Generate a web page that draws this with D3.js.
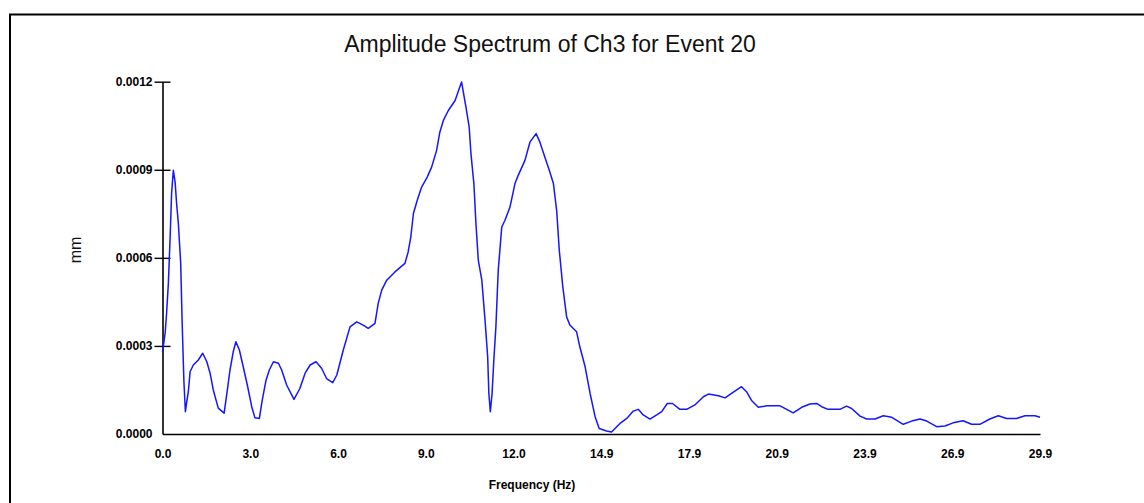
<!DOCTYPE html>
<html>
<head>
<meta charset="utf-8">
<script src="https://cdn.jsdelivr.net/npm/d3@7"></script>
<style>
  body { margin: 0; background: #fff; }
  svg { display: block; font-family: "Liberation Sans", Arial, sans-serif; }
  .tick text { font-size: 12px; font-weight: bold; fill: #000; }
</style>
</head>
<body>
<svg id="chart" width="1144" height="503"></svg>
<script>
// frequency (Hz) of each point
const freqs = [
  0.00, 0.09, 0.14, 0.20, 0.26, 0.31, 0.37, 0.43, 0.48, 0.54, 0.62, 0.67, 0.73, 0.78, 0.82, 0.88,
  0.94, 1.05, 1.22, 1.37, 1.51, 1.62, 1.73, 1.90, 2.10, 2.21, 2.30, 2.41, 2.50, 2.62, 2.75, 2.89,
  3.04, 3.15, 3.30, 3.40, 3.53, 3.64, 3.78, 3.95, 4.06, 4.23, 4.48, 4.68, 4.86, 5.03, 5.23, 5.42,
  5.59, 5.80, 5.94, 6.16, 6.39, 6.62, 6.84, 7.01, 7.24, 7.35, 7.47, 7.64, 7.92, 8.26, 8.37, 8.46,
  8.55, 8.68, 8.83, 9.02, 9.17, 9.34, 9.45, 9.57, 9.74, 9.97, 10.19, 10.34, 10.45, 10.51, 10.61, 10.68,
  10.76, 10.88, 10.99, 11.08, 11.12, 11.17, 11.23, 11.29, 11.36, 11.44, 11.56, 11.67, 11.84, 12.01, 12.12, 12.35,
  12.52, 12.73, 12.86, 13.03, 13.18, 13.32, 13.43, 13.52, 13.64, 13.77, 13.88, 14.11, 14.22, 14.40, 14.57, 14.74,
  14.88, 15.13, 15.30, 15.59, 15.82, 16.04, 16.21, 16.38, 16.61, 16.84, 17.01, 17.20, 17.38, 17.63, 17.86, 18.14,
  18.43, 18.60, 18.94, 19.17, 19.39, 19.73, 19.90, 20.08, 20.30, 20.59, 21.04, 21.27, 21.49, 21.78, 22.06, 22.29,
  22.46, 22.68, 23.08, 23.31, 23.48, 23.77, 23.99, 24.28, 24.56, 24.85, 25.24, 25.53, 25.81, 26.04, 26.38, 26.66,
  26.94, 27.28, 27.57, 27.85, 28.19, 28.48, 28.76, 29.10, 29.39, 29.73, 29.90
];

// amplitude (mm)
const amps = [
  0.000279, 0.000344, 0.000412, 0.000514, 0.000670, 0.000820, 0.000898, 0.000858, 0.000786, 0.000718, 0.000582, 0.000378, 0.000178, 0.000076, 0.000105, 0.000144,
  0.000212, 0.000235, 0.000252, 0.000275, 0.000246, 0.000208, 0.000150, 0.000088, 0.000071, 0.000150, 0.000218, 0.000280, 0.000314, 0.000286, 0.000229, 0.000167,
  0.000093, 0.000055, 0.000053, 0.000116, 0.000184, 0.000218, 0.000246, 0.000241, 0.000218, 0.000167, 0.000118, 0.000155, 0.000207, 0.000235, 0.000246, 0.000224,
  0.000189, 0.000175, 0.000201, 0.000286, 0.000365, 0.000382, 0.000371, 0.000360, 0.000377, 0.000445, 0.000490, 0.000524, 0.000552, 0.000581, 0.000620, 0.000671,
  0.000751, 0.000796, 0.000841, 0.000875, 0.000909, 0.000966, 0.001028, 0.001068, 0.001102, 0.001136, 0.001199, 0.001113, 0.001045, 0.000955, 0.000853, 0.000717,
  0.000592, 0.000524, 0.000388, 0.000263, 0.000138, 0.000076, 0.000138, 0.000252, 0.000365, 0.000558, 0.000705, 0.000728, 0.000773, 0.000853, 0.000881, 0.000932,
  0.000994, 0.001023, 0.000994, 0.000943, 0.000898, 0.000853, 0.000762, 0.000626, 0.000501, 0.000399, 0.000371, 0.000348, 0.000297, 0.000229, 0.000138, 0.000059,
  0.000019, 0.000010, 0.000007, 0.000036, 0.000053, 0.000078, 0.000084, 0.000065, 0.000051, 0.000065, 0.000076, 0.000104, 0.000104, 0.000084, 0.000084, 0.000099,
  0.000127, 0.000136, 0.000130, 0.000123, 0.000138, 0.000161, 0.000144, 0.000113, 0.000091, 0.000096, 0.000096, 0.000084, 0.000072, 0.000091, 0.000102, 0.000104,
  0.000093, 0.000084, 0.000084, 0.000095, 0.000087, 0.000061, 0.000051, 0.000051, 0.000062, 0.000057, 0.000033, 0.000044, 0.000051, 0.000044, 0.000025, 0.000027,
  0.000038, 0.000045, 0.000033, 0.000033, 0.000051, 0.000062, 0.000053, 0.000053, 0.000062, 0.000062, 0.000057
];

// axis ticks
const xTickValues = [0, 2.99, 5.98, 8.97, 11.96, 14.95, 17.94, 20.93, 23.92, 26.91, 29.9];
const xTickLabels = ["0.0", "3.0", "6.0", "9.0", "12.0", "14.9", "17.9", "20.9", "23.9", "26.9", "29.9"];
const yTickValues = [0, 0.0003, 0.0006, 0.0009, 0.0012];
const yTickLabels = ["0.0000", "0.0003", "0.0006", "0.0009", "0.0012"];

const data = freqs.map((f, i) => ({ freq: f, amp: amps[i] }));

const svg = d3.select("#chart");
const width = +svg.attr("width");
const height = +svg.attr("height");
const margin = { top: 81.7, right: 104, bottom: 69, left: 162.5 };
const innerWidth = width - margin.left - margin.right;
const innerHeight = height - margin.top - margin.bottom;

svg.append("rect")
    .attr("width", width)
    .attr("height", height)
    .attr("fill", "#fff");

// outer frame: only the top and left edges are inside the picture
svg.append("path")
    .attr("d", `M10,${height}V14.5H${width}`)
    .attr("fill", "none")
    .attr("stroke", "#000")
    .attr("stroke-width", 2);

svg.append("text")
    .attr("x", 550)
    .attr("y", 52)
    .attr("text-anchor", "middle")
    .style("font-size", "23px")
    .style("fill", "#111")
    .text("Amplitude Spectrum of Ch3 for Event 20");

const g = svg.append("g").attr("transform", `translate(${margin.left},${margin.top})`);

const xScale = d3.scaleLinear().domain([0, 29.9]).range([0, innerWidth]);
const yScale = d3.scaleLinear().domain([0, 0.0012]).range([innerHeight, 0]);

// x axis: line and labels only, no tick marks
const xAxisGroup = g.append("g")
    .attr("transform", `translate(0,${innerHeight})`)
    .call(d3.axisBottom(xScale)
        .tickValues(xTickValues)
        .tickFormat((d, i) => xTickLabels[i])
        .tickSize(0)
        .tickPadding(15));
xAxisGroup.select(".domain").attr("stroke", "#000").attr("stroke-width", 1.6);

// y axis: ticks cross the axis line
const yAxisGroup = g.append("g")
    .call(d3.axisLeft(yScale)
        .tickValues(yTickValues)
        .tickFormat((d, i) => yTickLabels[i])
        .tickSizeInner(8)
        .tickSizeOuter(0)
        .tickPadding(2));
yAxisGroup.select(".domain").attr("stroke", "#000").attr("stroke-width", 1.6);
yAxisGroup.selectAll(".tick line")
    .attr("x1", -8)
    .attr("x2", 8)
    .attr("stroke", "#000")
    .attr("stroke-width", 1.4)
    .filter(d => d === 0).remove();

// axis titles
svg.append("text")
    .attr("transform", "rotate(-90)")
    .attr("x", -250)
    .attr("y", 81)
    .attr("text-anchor", "middle")
    .style("font-size", "16px")
    .style("fill", "#111")
    .text("mm");

svg.append("text")
    .attr("x", 532)
    .attr("y", 489)
    .attr("text-anchor", "middle")
    .style("font-size", "12px")
    .style("font-weight", "bold")
    .style("fill", "#000")
    .text("Frequency (Hz)");

const line = d3.line()
    .x(d => xScale(d.freq))
    .y(d => yScale(d.amp));

g.append("path")
    .datum(data)
    .attr("fill", "none")
    .attr("stroke", "#1515ff")
    .attr("stroke-width", 1.5)
    .attr("stroke-linejoin", "round")
    .attr("d", line);
</script>
</body>
</html>
